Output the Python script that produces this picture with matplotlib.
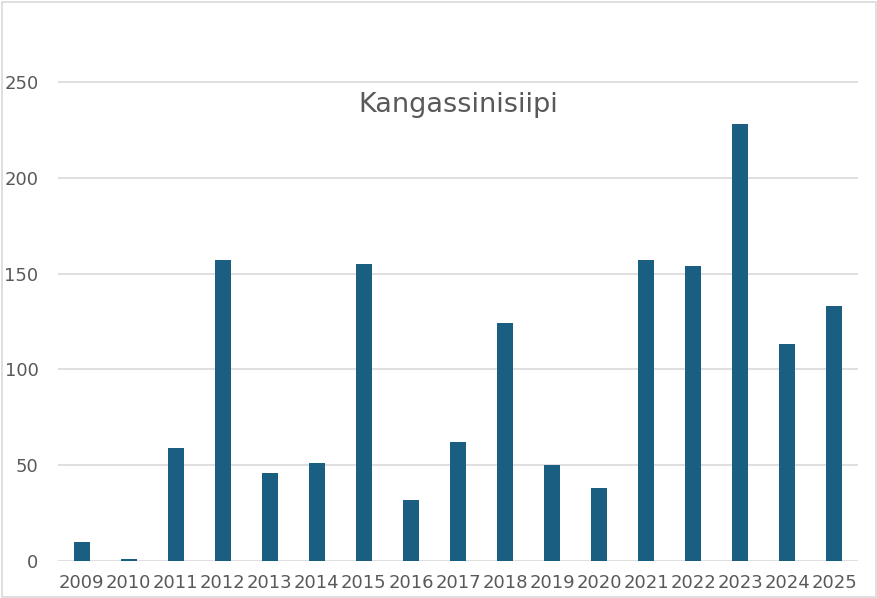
import matplotlib.pyplot as plt
from matplotlib.patches import Rectangle

years = ['2009', '2010', '2011', '2012', '2013', '2014', '2015', '2016', '2017',
         '2018', '2019', '2020', '2021', '2022', '2023', '2024', '2025']
counts = [10, 1, 59, 157, 46, 51, 155, 32, 62, 124, 50, 38, 157, 154, 228, 113, 133]
yticks = [0, 50, 100, 150, 200, 250]

fig = plt.figure(figsize=(8.78, 5.98), dpi=100)
ax = fig.add_axes([58 / 878, 1 - 561 / 598, 800 / 878, 551 / 598])

x = range(len(years))
ax.bar(x, counts, width=0.34, color='#1a5f82', zorder=3)

ax.set_xlim(-0.5, len(years) - 0.5)
ax.set_ylim(0, 287.5)
ax.set_yticks(yticks)
ax.set_xticks(list(x))
ax.set_xticklabels(years)
ax.yaxis.grid(True, color='#d9d9d9', linewidth=1.2, zorder=0)
for s in ax.spines.values():
    s.set_visible(False)
ax.tick_params(axis='both', length=0, labelsize=13, colors='#595959')
ax.tick_params(axis='y', pad=14)
ax.tick_params(axis='x', pad=9)

ax.text(0.5, 0.828, 'Kangassinisiipi', transform=ax.transAxes, ha='center',
        va='center', fontsize=19.5, color='#595959')

fig.patches.append(Rectangle((0.002, 0.002), 0.996, 0.994, transform=fig.transFigure,
                             fill=False, edgecolor='#d9d9d9', linewidth=1.2))

fig.savefig('out.png', dpi=100)
